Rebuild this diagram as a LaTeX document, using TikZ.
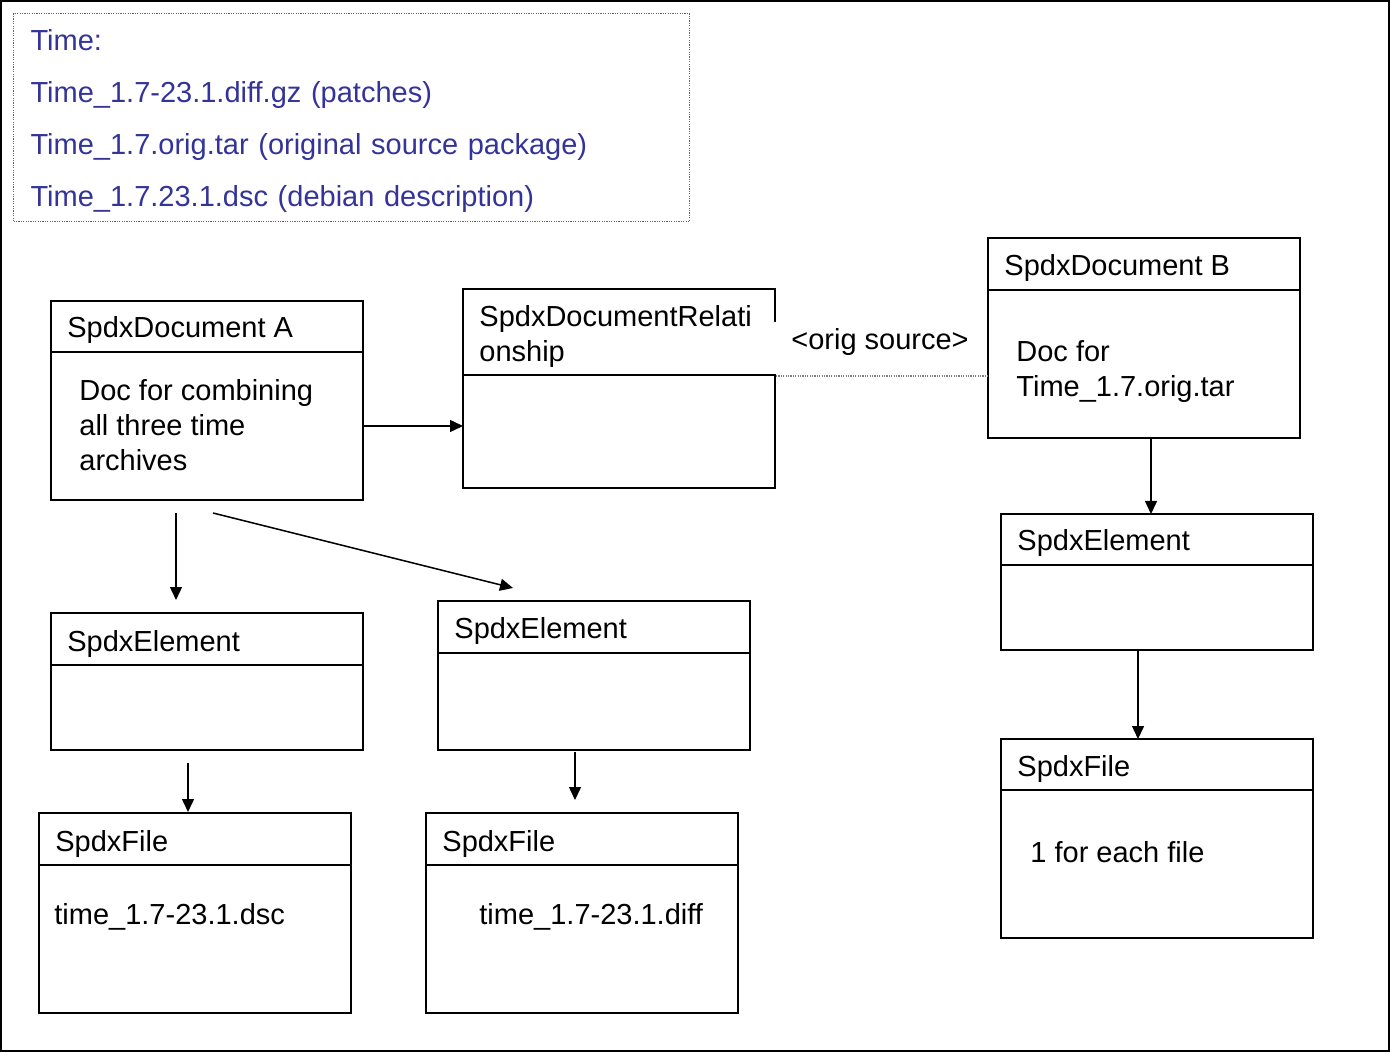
\documentclass[tikz,border=0pt]{standalone}
\usepackage{fontspec}
\setmainfont{Liberation Sans}
\usetikzlibrary{arrows.meta,positioning,calc}
\definecolor{textblue}{RGB}{51,51,153}
\definecolor{legendblue}{RGB}{95,95,175}

\begin{document}
\begin{tikzpicture}[
    x=0.5pt, y=-0.5pt,
    cls/.style={rectangle, draw=black, line width=1pt, minimum width=156pt, inner sep=0pt, outer sep=0pt, anchor=north west},
    sep/.style={line width=0.75pt},
    clsname/.style={anchor=base west, inner sep=0pt, font=\fontsize{14.5pt}{17.5pt}\selectfont},
    clstext/.style={anchor=north west, inner sep=0pt, align=left, font=\fontsize{14.5pt}{17.5pt}\selectfont},
    arr/.style={-{Triangle[length=6.5pt, width=6pt]}, line width=0.75pt},
    legend/.style={draw=legendblue, dash pattern=on 0.6pt off 0.6pt, line width=0.6pt, text=textblue, anchor=north west,
        minimum width=338pt, minimum height=104pt, inner xsep=8.5pt, inner ysep=0pt, text width=321pt, align=left,
        font=\fontsize{14.5pt}{26pt}\selectfont},
    assoc/.style={draw=gray, dash pattern=on 0.6pt off 0.6pt, line width=0.75pt},
]
    \useasboundingbox (0,0) rectangle (1390,1052);
    \draw[line width=1.2pt] (1.2,1.2) rectangle (1388.8,1050.8);

    % legend
    \node[legend] (legend) at (13,13) {\rule{0pt}{14pt}Time:\\Time\_1.7-23.1.diff.gz (patches)\\Time\_1.7.orig.tar (original source package)\\Time\_1.7.23.1.dsc (debian description)};

    % class boxes
    \node[cls, minimum height=99.5pt] (docA) at (51,301) {};
    \node[cls, minimum height=99.5pt] (rel) at (463,289) {};
    \node[cls, minimum height=100pt] (docB) at (988,238) {};
    \node[cls, minimum height=68.5pt] (elemA) at (51,613) {};
    \node[cls, minimum height=74.5pt] (elemB) at (438,601) {};
    \node[cls, minimum height=68pt] (elemC) at (1001,514) {};
    \node[cls, minimum height=100pt] (fileA) at (39,813) {};
    \node[cls, minimum height=100pt] (fileB) at (426,813) {};
    \node[cls, minimum height=99.5pt] (fileC) at (1001,739) {};

    \draw[sep] ([yshift=-25.5pt]docA.north west) -- ([yshift=-25.5pt]docA.north east);
    \draw[sep] ([yshift=-43pt]rel.north west) -- ([yshift=-43pt]rel.north east);
    \draw[sep] ([yshift=-26pt]docB.north west) -- ([yshift=-26pt]docB.north east);
    \draw[sep] ([yshift=-26pt]elemA.north west) -- ([yshift=-26pt]elemA.north east);
    \draw[sep] ([yshift=-26pt]elemB.north west) -- ([yshift=-26pt]elemB.north east);
    \draw[sep] ([yshift=-25.5pt]elemC.north west) -- ([yshift=-25.5pt]elemC.north east);
    \draw[sep] ([yshift=-26pt]fileA.north west) -- ([yshift=-26pt]fileA.north east);
    \draw[sep] ([yshift=-26pt]fileB.north west) -- ([yshift=-26pt]fileB.north east);
    \draw[sep] ([yshift=-25.5pt]fileC.north west) -- ([yshift=-25.5pt]fileC.north east);

    % names and contents
    \node[clsname] (docAname) at (67,338) {SpdxDocument A};
    \node[clstext] (relname) at (479,305) {SpdxDocumentRelati\\onship};
    \node[clsname] (docBname) at (1004,276) {SpdxDocument B};
    \node[clsname] (elemAname) at (67,651) {SpdxElement};
    \node[clsname] (elemBname) at (454,638) {SpdxElement};
    \node[clsname] (elemCname) at (1017,551) {SpdxElement};
    \node[clsname] (fileAname) at (55,851) {SpdxFile};
    \node[clsname] (fileBname) at (442,851) {SpdxFile};
    \node[clsname] (fileCname) at (1017,776) {SpdxFile};

    \node[clstext] (docAtext) at (79,379) {Doc for combining\\all three time\\archives};
    \node[clstext] (docBtext) at (1016,340) {Doc for\\Time\_1.7.orig.tar};
    \node[clsname] (fileAtext) at (54,924) {time\_1.7-23.1.dsc};
    \node[clsname] (fileBtext) at (479,924) {time\_1.7-23.1.diff};
    \node[clsname] (fileCtext) at (1030,862) {1 for each file};

    % relationship
    \node[anchor=base, fill=white, inner sep=0pt, text height=14pt, text depth=12pt, minimum width=106pt,
        font=\fontsize{14.5pt}{17.5pt}\selectfont] (origsrc) at (880,350) {\textless orig source\textgreater};
    \coordinate (relDot) at (776,376);
    \draw[assoc] (relDot) -- (relDot -| docB.west);

    % arrows
    \coordinate (aRight) at (363,426);
    \coordinate (aDownS) at (176,513);
    \coordinate (aDownE) at (176,600);
    \coordinate (aDiagS) at (213,513);
    \coordinate (aDiagE) at (513,588);
    \coordinate (eAS) at (188,763);
    \coordinate (eAE) at (188,812);
    \coordinate (eBS) at (575,752);
    \coordinate (eBE) at (575,800);
    \coordinate (bDown) at (1151,438);
    \coordinate (eCS) at (1138,650);

    \draw[arr] (aRight) -- (aRight -| rel.west);
    \draw[arr] (aDownS) -- (aDownE);
    \draw[arr] (aDiagS) -- (aDiagE);
    \draw[arr] (eAS) -- (eAE);
    \draw[arr] (eBS) -- (eBE);
    \draw[arr] (bDown) -- (bDown |- elemC.north);
    \draw[arr] (eCS) -- (eCS |- fileC.north);
\end{tikzpicture}
\end{document}
